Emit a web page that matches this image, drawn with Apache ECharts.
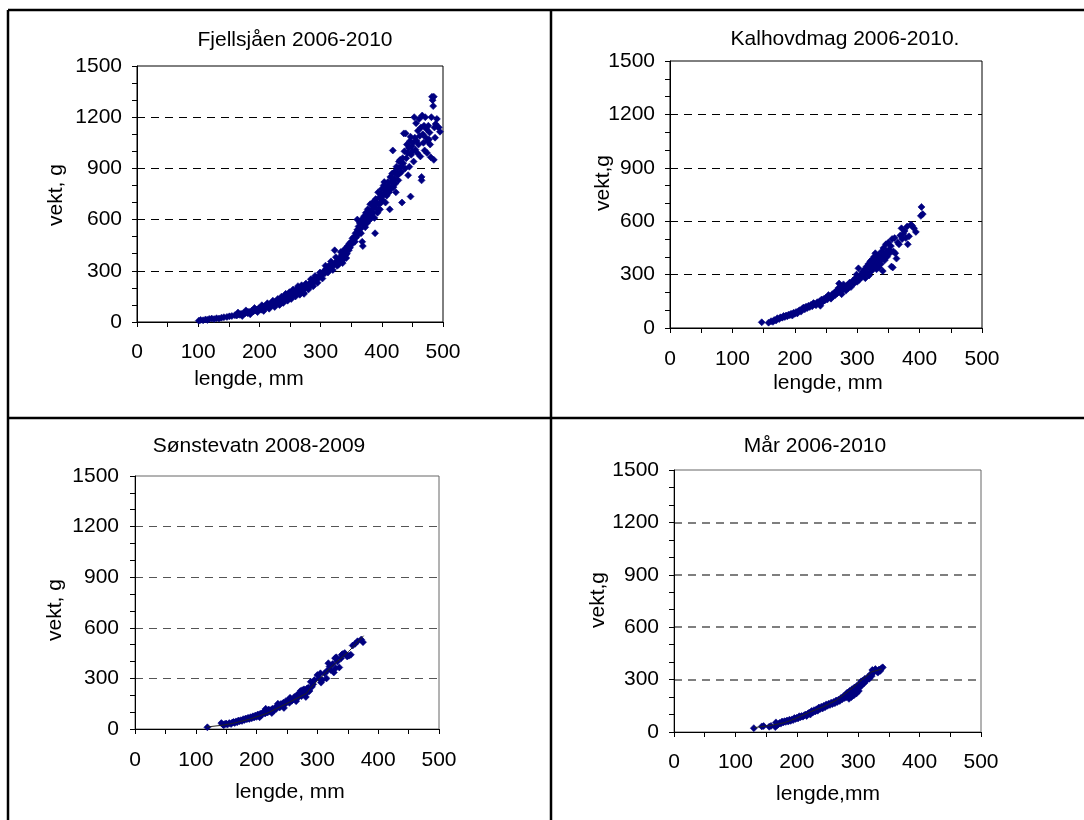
<!DOCTYPE html>
<html>
<head>
<meta charset="utf-8">
<script src="https://cdn.jsdelivr.net/npm/echarts@6/dist/echarts.min.js"></script>
<style>
html,body{margin:0;padding:0;background:#fff;}
#chart{width:1084px;height:820px;}
</style>
</head>
<body>
<div id="chart"></div>
<script>
// ---------------- texts ----------------
const panelTitles = ["Fjellsjåen 2006-2010", "Kalhovdmag 2006-2010.", "Sønstevatn 2008-2009", "Mår 2006-2010"];
const yAxisNames = ["vekt, g", "vekt,g", "vekt, g", "vekt,g"];
const xAxisNames = ["lengde, mm", "lengde, mm", "lengde, mm", "lengde,mm"];
const xRange = [0, 500, 100];     // min, max, step (tick labels 0..500)
const yRange = [0, 1500, 300];    // min, max, step (tick labels 0..1500)

// ---------------- data: [lengde mm, vekt g] ----------------
const fjellsjaen = [
[101,8],[104,12],[108,10],[112,15],[115,12],[118,18],[122,20],[126,17],[130,22],[134,20],[138,25],[142,28],[147,30],[151,33],[155,35],
[160,40],[163,38],[166,45],[168,42],[170,48],[172,44],[174,52],[176,50],[178,55],[180,58],[181,52],[183,60],[185,57],[187,63],[188,66],[190,62],[191,70],[193,68],[195,72],[196,66],[198,75],[199,80],[200,78],
[202,85],[203,72],[205,88],[206,80],[208,92],[209,84],[211,95],[212,88],[214,100],[215,92],[217,104],[218,96],[220,110],[221,100],[223,112],[224,106],[226,118],[228,110],[229,122],[231,115],[232,128],[234,120],[235,132],[237,125],[238,140],[240,130],[241,150],[242,138],[244,145],[245,160],[247,150],[248,142],[250,158],
[251,165],[253,155],[254,172],[256,162],[257,180],[258,170],[260,175],[261,188],[262,195],[264,182],[265,200],[267,190],[268,178],[270,198],[271,185],[272,170],[274,196],[275,205],[277,210],[279,200],[281,220],[283,228],[285,215],[287,240],[289,232],[290,252],[292,245],[294,260],[296,255],[298,270],[300,265],
[302,280],[304,288],[306,300],[307,285],[309,310],[311,322],[313,305],[314,330],[316,318],[318,340],[319,325],[321,335],[323,420],[324,345],[326,355],[327,330],[329,368],[330,350],[332,380],[334,372],[335,395],[337,365],[338,410],[340,390],[341,430],[343,400],[344,445],[346,420],[347,460],[348,435],[350,470],
[165,55],[172,35],[178,68],[185,45],[192,82],[197,58],[204,98],[207,65],[213,110],[216,78],[222,125],[225,88],[230,135],[233,100],[236,148],[239,112],[243,165],[246,125],[249,175],[252,135],[255,190],[259,150],[263,210],[266,160],[269,215],[273,165],[276,225],[280,190],[284,250],[288,210],[291,270],[295,230],[299,290],[303,255],[308,330],[312,290],[317,355],[320,305],[325,380],[329,335],[333,410],[336,345],[339,425],[342,375],
[351,455],[352,490],[354,480],[355,500],[356,470],[357,520],[358,495],[360,600],[360,540],[361,510],[362,560],[363,530],[364,580],[365,545],[366,520],[367,600],[368,470],[369,445],[370,570],[371,620],[372,590],[373,555],[374,640],[375,610],[376,580],[377,660],[378,625],[379,595],[380,650],[381,690],[382,630],[383,610],[384,660],[385,700],[386,640],[387,680],[388,610],[389,520],[390,720],[391,665],[392,700],[393,640],[394,760],[395,690],[396,730],[397,660],[398,750],[399,700],[400,780],
[401,715],[402,740],[403,800],[404,820],[405,760],[406,700],[407,790],[408,740],[409,770],[410,820],[411,800],[412,760],[413,660],[414,850],[415,780],[416,820],[417,870],[418,1005],[419,790],[420,840],[421,880],[422,810],[423,760],[424,910],[425,860],[426,900],[427,830],[428,940],[429,870],[430,950],[431,910],[432,880],[433,700],[434,960],[435,930],[436,1105],[437,1000],[438,900],[439,1105],[440,960],[441,1040],[442,990],[443,860],[444,1020],[445,910],[446,1060],[447,735],[447,1085],[448,980],[449,1030],[450,1000],
[451,1050],[452,940],[453,1200],[454,1080],[455,1010],[456,1165],[457,1060],[458,990],[459,1120],[460,1040],[461,1190],[462,1090],[463,970],[464,1140],[465,850],[465,830],[466,1210],[467,1100],[468,1050],[469,1150],[470,1005],[471,1200],[472,1080],[473,1130],[474,990],[475,1060],[476,1150],[477,1070],[478,1110],[479,1040],[480,965],[481,1200],[482,1320],[483,1300],[484,1265],[485,1320],[485,950],[486,1140],[487,1080],[488,1160],[490,1190],[491,1145],[493,1140],[495,1115]
];

const kalhovdmag = [
[147,32],[158,30],[162,38],[165,35],[167,45],[170,42],[172,55],[175,50],[177,60],[180,58],[182,68],[184,62],[186,70],[188,66],[190,75],[192,72],[194,80],[196,70],[198,85],[200,80],
[202,90],[204,82],[206,95],[208,100],[210,92],[212,108],[214,115],[216,105],[218,120],[220,112],[222,125],[224,118],[226,130],[228,122],[230,140],[232,135],[234,128],[236,145],[238,138],[240,150],[241,125],[243,160],[245,148],[247,165],[248,155],[250,170],
[252,160],[254,185],[256,175],[258,165],[260,190],[262,180],[264,200],[265,185],[267,210],[268,195],[270,225],[271,250],[272,205],[274,230],[275,190],[277,215],[278,245],[280,235],[282,210],[284,240],[286,225],[288,255],[290,230],[293,265],[295,250],[297,280],[299,300],[300,260],
[302,335],[303,270],[305,295],[307,285],[308,315],[310,300],[312,330],[313,280],[315,345],[316,310],[318,360],[319,295],[320,335],[321,375],[322,350],[323,320],[324,385],[325,360],[326,340],[327,400],[328,370],[329,420],[330,350],[331,330],[332,390],[333,365],[334,410],[335,340],[336,380],[337,400],[338,360],[339,430],[340,390],[341,320],[342,450],[343,410],[344,380],[346,470],[347,430],[348,400],[350,480],
[351,440],[352,420],[354,460],[355,345],[356,500],[357,340],[358,430],[360,505],[361,420],[363,390],[365,480],[367,470],[369,520],[371,560],[372,500],[374,530],[376,545],[378,505],[380,570],[381,470],[383,515],[386,580],[388,575],[391,560],[394,540],[402,630],[403,680],[405,640]
];

const sonstevatn = [
[119,10],[142,35],[144,28],[146,22],[148,30],[150,32],[152,26],[155,35],[158,30],[160,38],[162,42],[164,36],[166,45],[168,40],[170,50],[172,46],[174,52],[176,48],[178,58],[180,54],[182,62],[184,58],[186,66],[188,60],[190,70],[192,64],[194,75],[196,68],[198,80],[200,72],
[202,86],[204,78],[206,90],[208,82],[210,95],[212,104],[214,92],[216,110],[218,98],[220,115],[222,105],[224,112],[226,120],[228,108],[230,125],[232,118],[234,132],[236,142],[238,128],[240,148],[242,138],[244,155],[246,145],[248,165],[250,160],
[252,170],[254,155],[256,178],[258,168],[260,175],[262,190],[264,180],[266,200],[268,185],[270,210],[272,225],[274,195],[276,215],[278,235],[280,205],[281,190],[283,240],[285,245],[287,225],[289,280],[291,250],[293,265],
[205,70],[215,120],[225,95],[235,150],[245,125],[255,185],[265,165],[275,230],[282,215],[295,290],[305,330],[315,300],[330,360],[340,440],
[300,320],[303,300],[306,275],[308,290],[312,330],[316,345],[318,390],[320,370],[322,350],[325,385],[327,335],[329,420],[331,425],[333,400],[336,365],[339,420],[342,445],[345,450],[349,430],[352,435],[355,440],[358,495],[362,505],[366,520],[372,530],[375,515]
];
const sonstevatnTrend = [[118,12],[143,22],[162,34],[190,60],[217,93],[250,152],[282,211],[288,241],[296,271],[326,379],[351,458],[376,553]];

const maar = [
[130,22],[143,32],[146,34],[155,30],[158,35],[165,28],[166,55],[168,40],[170,45],[172,52],[174,48],[176,60],[178,55],[180,62],[182,58],[184,66],[186,60],[188,70],[190,64],[192,72],[194,68],[196,80],[198,75],[200,82],
[202,78],[204,90],[206,85],[208,92],[210,88],[212,95],[214,100],[216,92],[218,105],[220,110],[222,100],[224,120],[226,112],[228,125],[230,118],[232,130],[234,122],[236,140],[238,132],[240,145],[242,135],[244,150],[246,142],[248,158],[250,150],
[252,162],[254,155],[256,168],[258,160],[260,172],[262,165],[264,180],[266,172],[268,185],[270,178],[272,195],[274,188],[276,205],[278,195],[280,215],[281,200],[282,225],[284,210],[285,190],[286,235],[288,220],[289,200],[290,245],[292,230],[293,210],[294,255],[296,240],[297,220],[298,265],[300,250],
[301,235],[302,275],[304,260],[305,290],[306,270],[308,295],[310,280],[311,305],[312,290],[314,300],[316,315],[318,305],[320,330],[322,320],[323,355],[324,340],[326,345],[328,360],[330,350],[332,340],[334,358],[336,350],[338,365],[340,370]
];
const maarTrend = [[131,25],[158,38],[180,53],[197,76],[219,111],[242,143],[264,181],[286,239],[308,305],[322,344],[338,360]];

const panelData = [fjellsjaen, kalhovdmag, sonstevatn, maar];
const panelTrends = [null, null, sonstevatnTrend, maarTrend];

// ---------------- layout (pixels) ----------------
const grids = [
  {left:137, top:66,  width:306, height:256},
  {left:670, top:61,  width:312, height:267},
  {left:135, top:476, width:304, height:253},
  {left:674, top:470, width:307, height:262}
];
const titlePos = [[295,40],[845,39],[259,446],[815,446]];
const yNamePos = [[56,195],[603,183],[55,610],[598,600]];
const xNamePos = [[249,379],[828,383],[290,792],[828,794]];
const gridLineColor = ['#000','#000','#555','#555'];
const gridLineWidth = [1,1,1,1.5];
const borderColor = ['#000','#000','#666','#666'];
const xLabelMargin = [20,21,21,20];
const yLabelMargin = [15,15,16,15];

const FONT = '"Liberation Sans", Arial, sans-serif';
const FS = 21;

const chart = echarts.init(document.getElementById('chart'), null, {renderer:'canvas'});

const option = {
  animation:false,
  backgroundColor:'#fff',
  grid: grids.map((g,i)=>Object.assign({show:true, borderColor:borderColor[i], borderWidth:1, backgroundColor:'transparent', containLabel:false}, g)),
  xAxis: grids.map((g,i)=>({
    type:'value', gridIndex:i, min:xRange[0], max:xRange[1], interval:xRange[2],
    axisLine:{show:true, onZero:false, lineStyle:{color:'#000', width:1}},
    axisTick:{show:true, inside:false, length:5, lineStyle:{color:'#000', width:1}},
    minorTick:{show:true, splitNumber:2, length:5, lineStyle:{color:'#000', width:1}},
    axisLabel:{color:'#000', fontFamily:FONT, fontSize:FS, margin:xLabelMargin[i], formatter:v=>String(v)},
    splitLine:{show:false}
  })),
  yAxis: grids.map((g,i)=>({
    type:'value', gridIndex:i, min:yRange[0], max:yRange[1], interval:yRange[2],
    axisLine:{show:true, onZero:false, lineStyle:{color:'#000', width:1}},
    axisTick:{show:true, inside:false, length:5, lineStyle:{color:'#000', width:1}},
    minorTick:{show:true, splitNumber:3, length:5, lineStyle:{color:'#000', width:1}},
    axisLabel:{color:'#000', fontFamily:FONT, fontSize:FS, margin:yLabelMargin[i], formatter:v=>String(v)},
    splitLine:{show:true, showMinLine:false, showMaxLine:false, lineStyle:{color:gridLineColor[i], width:gridLineWidth[i], type:[8,6]}}
  })),
  series: [],
  graphic: []
};

panelData.forEach((d,i)=>{
  option.series.push({
    type:'scatter', xAxisIndex:i, yAxisIndex:i, data:d,
    symbol:'diamond', symbolSize:7,
    itemStyle:{color:'#000080', borderColor:'#000080', borderWidth:0.6, opacity:1},
    z:3
  });
  if (panelTrends[i]) {
    option.series.push({
      type:'line', xAxisIndex:i, yAxisIndex:i, data:panelTrends[i],
      symbol:'none', smooth:false,
      lineStyle:{color:'#222', width:1}, z:5
    });
  }
});

// table borders
const borders = [
  [8,10,1084,10],[8,10,8,820],[551,10,551,820],[8,418,1084,418]
];
borders.forEach(b=>option.graphic.push({type:'line', silent:true, z:100,
  shape:{x1:b[0],y1:b[1],x2:b[2],y2:b[3]}, style:{stroke:'#000', lineWidth:2.5}}));

function txt(s, x, y, rot){
  return {type:'text', silent:true, x:x, y:y, rotation:rot||0, z:100,
    style:{text:s, fill:'#000', font:FS+'px '+FONT, align:'center', verticalAlign:'middle', textAlign:'center', textVerticalAlign:'middle'}};
}
panelTitles.forEach((t,i)=>option.graphic.push(txt(t, titlePos[i][0], titlePos[i][1])));
yAxisNames.forEach((t,i)=>option.graphic.push(txt(t, yNamePos[i][0], yNamePos[i][1], Math.PI/2)));
xAxisNames.forEach((t,i)=>option.graphic.push(txt(t, xNamePos[i][0], xNamePos[i][1])));

chart.setOption(option);
</script>
</body>
</html>
